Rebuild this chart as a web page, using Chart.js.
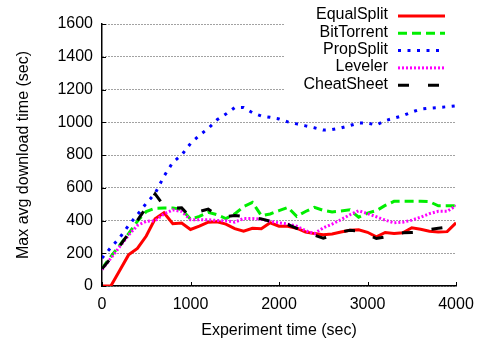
<!DOCTYPE html>
<html>
<head>
<meta charset="utf-8">
<script src="https://cdn.jsdelivr.net/npm/chart.js@4/dist/chart.umd.min.js"></script>
<style>
  html, body { margin: 0; padding: 0; background: #fff; }
  #wrap { width: 479px; height: 341px; }
</style>
</head>
<body>
<div id="wrap"><canvas id="chart" width="479" height="341"></canvas></div>
<script>
// --- DATA ---
const times = [0, 100, 200, 300, 400, 500, 600, 700, 800, 900,
  1000, 1100, 1200, 1300, 1400, 1500, 1600, 1700, 1800, 1900,
  2000, 2100, 2200, 2300, 2400, 2500, 2600, 2700, 2800, 2900,
  3000, 3100, 3200, 3300, 3400, 3500, 3600, 3700, 3800, 3900, 4000];

const equalSplit = [0, 0, 95, 190, 230, 305, 410, 447, 380, 385,
  345, 365, 390, 392, 378, 350, 335, 352, 350, 386,
  365, 365, 353, 330, 320, 313, 318, 330, 340, 343,
  328, 300, 327, 320, 325, 356, 346, 335, 330, 332, 386];

const bitTorrent = [107, 180, 250, 320, 395, 455, 475, 477, 477, 468,
  408, 425, 450, 435, 412, 440, 485, 510, 430, 440,
  460, 480, 425, 455, 480, 462, 452, 458, 465, 420,
  445, 460, 492, 517, 518, 518, 518, 515, 490, 490, 490];

const propSplit = [170, 235, 295, 370, 435, 505, 565, 670, 755, 800,
  870, 920, 962, 1015, 1050, 1090, 1090, 1058, 1038, 1030,
  1020, 1002, 990, 978, 966, 952, 955, 965, 980, 995,
  995, 983, 1010, 1025, 1040, 1062, 1080, 1086, 1090, 1095, 1100];

const leveler = [100, 170, 240, 310, 370, 395, 398, 440, 465, 455,
  405, 405, 405, 400, 398, 390, 412, 412, 408, 395,
  385, 378, 365, 338, 320, 355, 378, 405, 435, 460,
  442, 423, 402, 386, 390, 402, 420, 442, 456, 456, 490];

const cheatSheet = [105, 170, 245, 320, 400, 480, 562, 490, 475, 477,
  420, 455, 470, 430, 425, 430, 425, 420, 410, 395,
  380, 375, 352, 330, 310, 292, 310, 330, 340, 335,
  315, 290, 300, 318, 325, 327, 330, 345, 352, 360, 385];

const yTicks = [0, 200, 400, 600, 800, 1000, 1200, 1400, 1600];
const xTicks = [0, 1000, 2000, 3000, 4000];

// --- STYLE ---
const FONT = "'Liberation Sans', Arial, sans-serif";
const series = [
  { label: 'EqualSplit', data: equalSplit, color: '#ff0000', dash: [] },
  { label: 'BitTorrent', data: bitTorrent, color: '#00ee00', dash: [9, 5] },
  { label: 'PropSplit', data: propSplit, color: '#0000ff', dash: [3, 6.5] },
  { label: 'Leveler', data: leveler, color: '#ff00ff', dash: [2, 2] },
  { label: 'CheatSheet', data: cheatSheet, color: '#000000', dash: [11, 19] }
];

function toPoints(values) {
  return times.map((t, i) => ({ x: t, y: values[i] }));
}

// gnuplot-like inward tick marks
const tickMarks = {
  id: 'tickMarks',
  afterDatasetsDraw(chart) {
    const { ctx, scales: { x, y } } = chart;
    ctx.save();
    ctx.strokeStyle = '#000';
    ctx.lineWidth = 1;
    ctx.setLineDash([]);
    yTicks.forEach(v => {
      const py = Math.round(y.getPixelForValue(v)) + 0.5;
      ctx.beginPath();
      ctx.moveTo(x.left, py);
      ctx.lineTo(x.left + 4, py);
      ctx.stroke();
    });
    xTicks.forEach(v => {
      const px = Math.round(x.getPixelForValue(v)) + 0.5;
      ctx.beginPath();
      ctx.moveTo(px, y.bottom);
      ctx.lineTo(px, y.bottom - 4);
      ctx.stroke();
    });
    ctx.restore();
  }
};

// key box in the top right, opaque like gnuplot
const keyBox = {
  id: 'keyBox',
  afterDraw(chart) {
    const { ctx, chartArea } = chart;
    ctx.save();
    ctx.fillStyle = '#fff';
    ctx.fillRect(284, chartArea.top - 2, chartArea.right - 284 + 2, 96 - chartArea.top);
    ctx.font = '16px ' + FONT;
    ctx.textAlign = 'right';
    ctx.textBaseline = 'middle';
    series.forEach((s, i) => {
      const yy = 15 + i * 17.3;
      ctx.fillStyle = '#000';
      ctx.fillText(s.label, 388, yy);
      ctx.strokeStyle = s.color;
      ctx.lineWidth = 3;
      ctx.setLineDash(s.dash);
      ctx.beginPath();
      ctx.moveTo(398, yy + 1);
      ctx.lineTo(445, yy + 1);
      ctx.stroke();
    });
    ctx.restore();
  }
};

new Chart(document.getElementById('chart'), {
  type: 'line',
  data: {
    datasets: series.map((s, i) => ({
      label: s.label,
      data: toPoints(s.data),
      borderColor: s.color,
      borderWidth: 3,
      borderDash: s.dash,
      borderCapStyle: 'butt',
      pointRadius: 0,
      tension: 0,
      fill: false,
      order: series.length - i
    }))
  },
  options: {
    responsive: false,
    animation: false,
    events: [],
    layout: { padding: { top: 24, right: 23, bottom: 0, left: 0 } },
    plugins: { legend: { display: false }, tooltip: { enabled: false } },
    scales: {
      x: {
        type: 'linear',
        min: 0,
        max: 4000,
        afterBuildTicks: s => { s.ticks = xTicks.map(v => ({ value: v })); },
        afterFit: s => { s.height = 55; s.paddingLeft = 0; s.paddingRight = 0; },
        grid: { display: false, drawTicks: false },
        border: { display: true, color: '#000', width: 1.5 },
        ticks: {
          color: '#000', font: { family: FONT, size: 16 }, padding: 9, maxRotation: 0,
          callback: v => String(v)
        },
        title: {
          display: true,
          text: 'Experiment time (sec)',
          color: '#000',
          font: { family: FONT, size: 16 },
          padding: { top: 0, bottom: 1 }
        }
      },
      y: {
        min: 0,
        max: 1600,
        afterBuildTicks: s => { s.ticks = yTicks.map(v => ({ value: v })); },
        afterFit: s => { s.width = 102; },
        grid: { color: '#444', lineWidth: 1, drawTicks: false },
        border: { display: true, color: '#000', width: 1.5, dash: [1, 2] },
        ticks: {
          color: '#000', font: { family: FONT, size: 16 }, padding: 9,
          callback: v => String(v)
        },
        title: {
          display: true,
          text: 'Max avg download time (sec)',
          color: '#000',
          font: { family: FONT, size: 16 },
          padding: { top: 14, bottom: 0 }
        }
      }
    }
  },
  plugins: [tickMarks, keyBox]
});
</script>
</body>
</html>
